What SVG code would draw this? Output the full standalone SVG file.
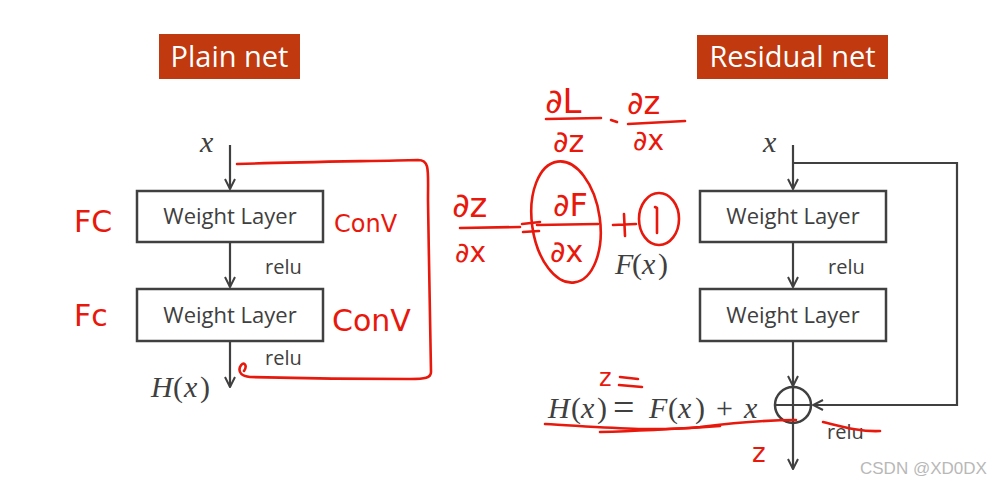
<svg xmlns="http://www.w3.org/2000/svg" width="1006" height="485" viewBox="0 0 1006 485">
<defs>
<marker id="ah" viewBox="0 0 12 12" refX="11" refY="6" markerWidth="12" markerHeight="12" markerUnits="userSpaceOnUse" orient="auto">
<path d="M1,1 L11,6 L1,11" fill="none" stroke="#404040" stroke-width="2"/>
</marker>
<style>
.bg{fill:#ffffff}
.title{fill:#c0390f}
.tt{font-family:"Open Sans","Noto Sans",sans-serif;font-size:29px;fill:#ffffff}
.box{fill:#ffffff;stroke:#404040;stroke-width:2.5}
.lbl{font-family:"Open Sans","Noto Sans",sans-serif;font-size:22px;fill:#404040;text-anchor:middle}
.relu{font-family:"Open Sans","Noto Sans",sans-serif;font-size:20px;fill:#404040}
.math{font-family:"Liberation Serif","DejaVu Serif",serif;font-style:italic;font-size:30px;fill:#404040}
.up{font-style:normal}
.edge{fill:none;stroke:#404040;stroke-width:2.2}
.red{fill:none;stroke:#e8180c;stroke-width:2.6;stroke-linecap:round;stroke-linejoin:round}
.hw{font-family:"DejaVu Sans","Liberation Sans",sans-serif;fill:#e8180c}
.wm{font-family:"Liberation Sans",Arial,sans-serif;font-size:17px;fill:#b8b8b8}
</style>
</defs>
<rect class="bg" x="0" y="0" width="1006" height="485"/>

<g id="title-plain">
<rect class="title" x="159" y="34" width="141" height="45"/>
<text class="tt" x="229.5" y="67" text-anchor="middle">Plain net</text>
</g>
<g id="title-residual">
<rect class="title" x="697" y="35" width="191" height="44"/>
<text class="tt" x="792.5" y="67" text-anchor="middle">Residual net</text>
</g>

<g id="plain-x"><text class="math" x="200" y="152">x</text></g>
<g id="plain-wl1">
<rect class="box" x="137" y="191" width="186" height="51"/>
<text class="lbl" x="230" y="224">Weight Layer</text>
</g>
<g id="plain-wl2">
<rect class="box" x="137" y="289" width="186" height="52"/>
<text class="lbl" x="230" y="323">Weight Layer</text>
</g>
<g id="plain-relu1"><text class="relu" x="265" y="274">relu</text></g>
<g id="plain-relu2"><text class="relu" x="265" y="365">relu</text></g>
<g id="plain-h"><text class="math" y="397"><tspan x="151">H</tspan><tspan class="up" x="173">(</tspan><tspan x="184">x</tspan><tspan class="up" x="200">)</tspan></text></g>

<g id="res-x"><text class="math" x="763" y="152">x</text></g>
<g id="res-wl1">
<rect class="box" x="700" y="191" width="186" height="51"/>
<text class="lbl" x="793" y="224">Weight Layer</text>
</g>
<g id="res-wl2">
<rect class="box" x="700" y="289" width="186" height="52"/>
<text class="lbl" x="793" y="323">Weight Layer</text>
</g>
<g id="res-relu1"><text class="relu" x="828" y="274">relu</text></g>
<g id="res-fx"><text class="math" y="274" font-size="28"><tspan x="615">F</tspan><tspan class="up" x="632">(</tspan><tspan x="642">x</tspan><tspan class="up" x="658">)</tspan></text></g>
<g id="res-sum">
<circle cx="793" cy="405" r="18" fill="#ffffff" stroke="#404040" stroke-width="2.5"/>
<path class="edge" d="M775,405 H811 M793,387 V423"/>
</g>
<g id="res-eq"><text class="math" y="418" font-size="31"><tspan x="548">H</tspan><tspan class="up" x="571">(</tspan><tspan x="581">x</tspan><tspan class="up" x="597">)</tspan><tspan class="up" x="613" font-size="38" dy="2">=</tspan><tspan x="649" dy="-2">F</tspan><tspan class="up" x="668">(</tspan><tspan x="678">x</tspan><tspan class="up" x="695">)</tspan><tspan class="up" x="716">+</tspan><tspan x="744">x</tspan></text></g>
<g id="res-relu2"><text class="relu" x="827" y="439">relu</text></g>

<g id="connectors">
<path class="edge" d="M230,145 V189" marker-end="url(#ah)"/>
<path class="edge" d="M230,242 V287" marker-end="url(#ah)"/>
<path class="edge" d="M230,341 V387" marker-end="url(#ah)"/>
<path class="edge" d="M793,145 V189" marker-end="url(#ah)"/>
<path class="edge" d="M793,242 V287" marker-end="url(#ah)"/>
<path class="edge" d="M793,341 V386" marker-end="url(#ah)"/>
<path class="edge" d="M793,163 H957 V405 H813" marker-end="url(#ah)"/>
<path class="edge" d="M793,423 V469" marker-end="url(#ah)"/>
</g>

<g id="annotations">
<text class="hw" x="74" y="232" font-size="30">FC</text>
<text class="hw" x="74" y="326" font-size="30">Fc</text>
<text class="hw" x="334" y="232" font-size="24">ConV</text>
<text class="hw" x="332" y="331" font-size="30">ConV</text>
<path class="red" d="M237,164 C300,162 380,161 418,160 C430,160 428,170 428,200 C429,260 430,330 431,372 C431,378 425,379 410,379 C350,379 290,378 250,377 C242,376 238,373 240,367 C243,360 248,365 244,371"/>
<text class="hw" x="545" y="113" font-size="34">∂L</text>
<path class="red" d="M546,119 L601,118"/>
<text class="hw" x="553" y="152" font-size="30">∂z</text>
<path class="red" d="M611,120 L617,122"/>
<text class="hw" x="627" y="114" font-size="32">∂z</text>
<path class="red" d="M628,124 L685,121"/>
<text class="hw" x="633" y="150" font-size="28">∂x</text>
<text class="hw" x="452" y="217" font-size="34">∂z</text>
<path class="red" d="M460,228 L520,227"/>
<text class="hw" x="455" y="262" font-size="28">∂x</text>
<path class="red" d="M522,224 L540,222 M523,232 L539,231"/>
<ellipse class="red" cx="566" cy="222" rx="34" ry="61" transform="rotate(-8 566 222)"/>
<text class="hw" x="553" y="216" font-size="32">∂F</text>
<path class="red" d="M537,225 L598,224"/>
<text class="hw" x="550" y="262" font-size="30">∂x</text>
<path class="red" d="M613,225 L636,224 M624,214 L625,236"/>
<ellipse class="red" cx="659" cy="219" rx="20" ry="26"/>
<path class="red" d="M655,207 L657,208 L657,233"/>
<text class="hw" x="599" y="386" font-size="24">z</text>
<path class="red" d="M620,377 L638,379 M619,385 L642,387"/>
<path class="red" d="M545,424 C600,427 650,432 700,427 C740,422 770,420 796,420"/>
<path class="red" d="M600,432 C640,431 690,428 720,426"/>
<text class="hw" x="752" y="462" font-size="26">z</text>
<path class="red" d="M823,422 C840,426 860,432 880,431"/>
</g>

<g id="watermark"><text class="wm" x="860" y="474">CSDN @XD0DX</text></g>
</svg>
